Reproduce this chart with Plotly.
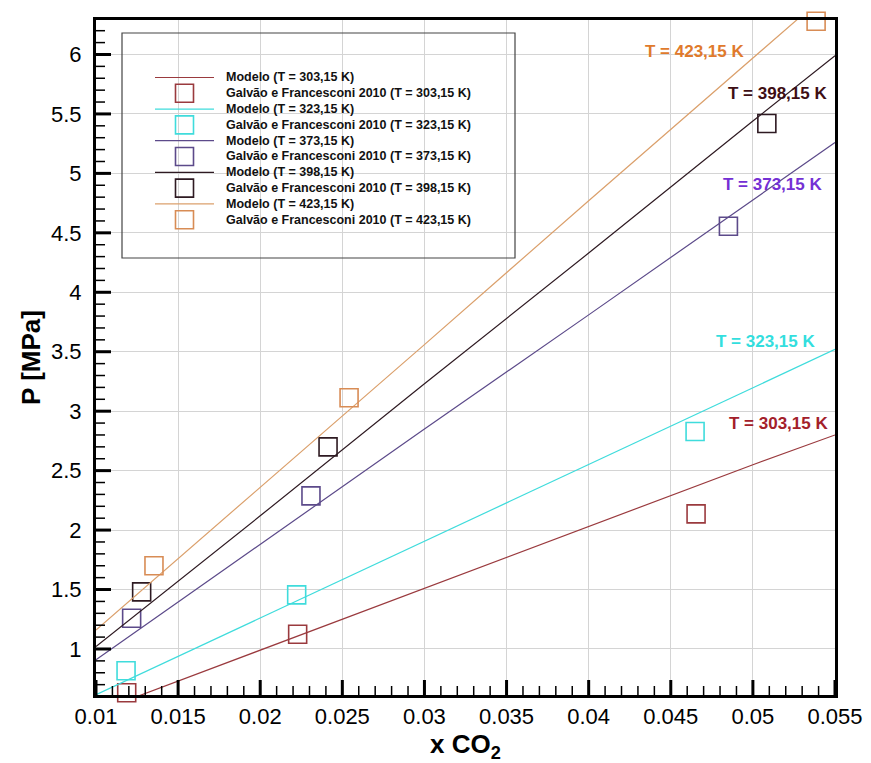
import plotly.graph_objects as go

# Model curves (P in MPa) evaluated along the CO2 mole fraction
x_model = [0.010, 0.020, 0.030, 0.040, 0.050, 0.055]
p_model_303 = [0.47, 0.99, 1.51, 2.03, 2.55, 2.80]
p_model_323 = [0.615, 1.26, 1.91, 2.55, 3.20, 3.52]
p_model_373 = [0.91, 1.88, 2.85, 3.81, 4.78, 5.26]
p_model_398 = [1.02, 2.12, 3.23, 4.33, 5.44, 5.99]
p_model_423 = [1.16, 2.36, 3.56, 4.77, 5.97, 6.57]

# Experimental data, Galvão e Francesconi 2010
x_exp_303 = [0.01187, 0.02228, 0.04654]
p_exp_303 = [0.632, 1.124, 2.136]
x_exp_323 = [0.01183, 0.02222, 0.04648]
p_exp_323 = [0.817, 1.455, 2.829]
x_exp_373 = [0.01217, 0.02309, 0.04851]
p_exp_373 = [1.258, 2.288, 4.555]
x_exp_398 = [0.01278, 0.02413, 0.05085]
p_exp_398 = [1.48, 2.70, 5.419]
x_exp_423 = [0.01353, 0.02541, 0.05385]
p_exp_423 = [1.70, 3.113, 6.28]

temperatures = ["303,15", "323,15", "373,15", "398,15", "423,15"]
model_names = [f"Modelo (T = {t} K)" for t in temperatures]
exp_names = [f"Galvão e Francesconi 2010 (T = {t} K)" for t in temperatures]
curve_labels = [f"T = {t} K" for t in temperatures]

# Axis ticks
x_ticks = [0.01, 0.015, 0.02, 0.025, 0.03, 0.035, 0.04, 0.045, 0.05, 0.055]
x_tick_text = ["0.01", "0.015", "0.02", "0.025", "0.03", "0.035", "0.04", "0.045", "0.05", "0.055"]
y_ticks = [1, 1.5, 2, 2.5, 3, 3.5, 4, 4.5, 5, 5.5, 6]
y_tick_text = ["1", "1.5", "2", "2.5", "3", "3.5", "4", "4.5", "5", "5.5", "6"]

# Minor tick positions: 0.001 steps on x, 0.1 steps on y
x_minor = [round(0.010 + k * 0.001, 4) for k in range(46)]
y_minor = [round(0.7 + k * 0.1, 2) for k in range(56)]

# Curve label anchors (data coordinates)
label_x = [0.05153, 0.05074, 0.05117, 0.05148, 0.04642]
label_y = [2.894, 3.584, 4.906, 5.672, 6.025]

line_colors = ["#9a3a3e", "#3fdcdc", "#5c4a8a", "#2e1a22", "#dba06c"]
marker_colors = ["#9a3a3e", "#3fdcdc", "#5c4a8a", "#2e1a22", "#d88c55"]
label_colors = ["#a3202a", "#33dede", "#7430d4", "#3e0e14", "#e07a2c"]

model_y = [p_model_303, p_model_323, p_model_373, p_model_398, p_model_423]
exp_x = [x_exp_303, x_exp_323, x_exp_373, x_exp_398, x_exp_423]
exp_y = [p_exp_303, p_exp_323, p_exp_373, p_exp_398, p_exp_423]

X_RANGE = [0.01, 0.055]
Y_RANGE = [0.613, 6.29]

W, H = 871, 763
ML, MR, MT, MB = 96, 36, 20, 68
PW, PH = W - ML - MR, H - MT - MB

FONT = "Arial, Liberation Sans, sans-serif"

fig = go.Figure()
for i in range(5):
    fig.add_trace(go.Scatter(
        x=x_model, y=model_y[i], mode="lines", name=model_names[i],
        line=dict(color=line_colors[i], width=1.2), showlegend=False,
    ))
    fig.add_trace(go.Scatter(
        x=exp_x[i], y=exp_y[i], mode="markers", name=exp_names[i],
        marker=dict(symbol="square-open", size=18,
                    line=dict(color=marker_colors[i], width=1.6),
                    color=marker_colors[i]),
        cliponaxis=False, showlegend=False,
    ))

annotations = []
for i in range(5):
    annotations.append(dict(
        x=label_x[i], y=label_y[i], xref="x", yref="y", text=f"<b>{curve_labels[i]}</b>",
        showarrow=False, font=dict(family=FONT, size=17, color=label_colors[i]),
        xanchor="center", yanchor="middle",
    ))


def px_x(px):
    return (px - ML) / PW


def px_y(py):
    return (H - MB - py) / PH


shapes = []

# Inward tick marks along the bottom and left axes
MAJOR_LEN, MINOR_LEN = 15, 9
for v in x_minor:
    shapes.append(dict(type="line", xref="x", yref="paper", x0=v, x1=v,
                       y0=0, y1=MINOR_LEN / PH, line=dict(color="black", width=1.5),
                       layer="above"))
for v in y_minor:
    shapes.append(dict(type="line", xref="paper", yref="y", y0=v, y1=v,
                       x0=0, x1=MINOR_LEN / PW, line=dict(color="black", width=1.5),
                       layer="above"))
for v in x_ticks:
    shapes.append(dict(type="line", xref="x", yref="paper", x0=v, x1=v,
                       y0=0, y1=MAJOR_LEN / PH, line=dict(color="black", width=3),
                       layer="above"))
for v in y_ticks:
    shapes.append(dict(type="line", xref="paper", yref="y", y0=v, y1=v,
                       x0=0, x1=MAJOR_LEN / PW, line=dict(color="black", width=3),
                       layer="above"))

# Legend panel drawn inside the plot area
shapes.append(dict(type="rect", xref="paper", yref="paper",
                   x0=px_x(122), x1=px_x(515), y0=px_y(258), y1=px_y(33),
                   line=dict(color="#444444", width=1.2), fillcolor="rgba(0,0,0,0)",
                   layer="above"))
row0, row_step = 77.5, 15.8
key_l, key_r, key_c, sq = 155, 214, 184.5, 18
text_x = 224
names = []
for i in range(5):
    names.append(model_names[i])
    names.append(exp_names[i])
for r, name in enumerate(names):
    yy = row0 + r * row_step
    ci = r // 2
    if r % 2 == 0:
        shapes.append(dict(type="line", xref="paper", yref="paper",
                           x0=px_x(key_l), x1=px_x(key_r), y0=px_y(yy), y1=px_y(yy),
                           line=dict(color=line_colors[ci], width=1.2), layer="above"))
    else:
        shapes.append(dict(type="rect", xref="paper", yref="paper",
                           x0=px_x(key_c - sq / 2), x1=px_x(key_c + sq / 2),
                           y0=px_y(yy + sq / 2), y1=px_y(yy - sq / 2),
                           line=dict(color=marker_colors[ci], width=1.6),
                           fillcolor="rgba(0,0,0,0)", layer="above"))
    annotations.append(dict(
        x=px_x(text_x), y=px_y(yy), xref="paper", yref="paper", text=f"<b>{name}</b>",
        showarrow=False, xanchor="left", yanchor="middle",
        font=dict(family=FONT, size=12.5, color="#111111"),
    ))

axis_common = dict(
    showline=True, linecolor="black", linewidth=3, mirror=True,
    ticks="", showgrid=True, gridcolor="#d4d4d4", gridwidth=1,
    zeroline=False, automargin=False,
    tickfont=dict(family=FONT, size=22, color="black"),
)

fig.update_layout(
    width=W, height=H,
    margin=dict(l=ML, r=MR, t=MT, b=MB, pad=0),
    paper_bgcolor="white", plot_bgcolor="white",
    font=dict(family=FONT, color="black"),
    showlegend=False,
    annotations=annotations,
    shapes=shapes,
    xaxis=dict(
        range=X_RANGE, tickmode="array", tickvals=x_ticks, ticktext=x_tick_text,
        title=dict(text="<b>x CO<sub>2</sub></b>", font=dict(family=FONT, size=26), standoff=4),
        **axis_common,
    ),
    yaxis=dict(
        range=Y_RANGE, tickmode="array", tickvals=y_ticks, ticktext=y_tick_text,
        title=dict(text="<b>P [MPa]</b>", font=dict(family=FONT, size=26), standoff=3),
        ticklabelstandoff=7,
        **axis_common,
    ),
)

fig.write_html("out.html")
